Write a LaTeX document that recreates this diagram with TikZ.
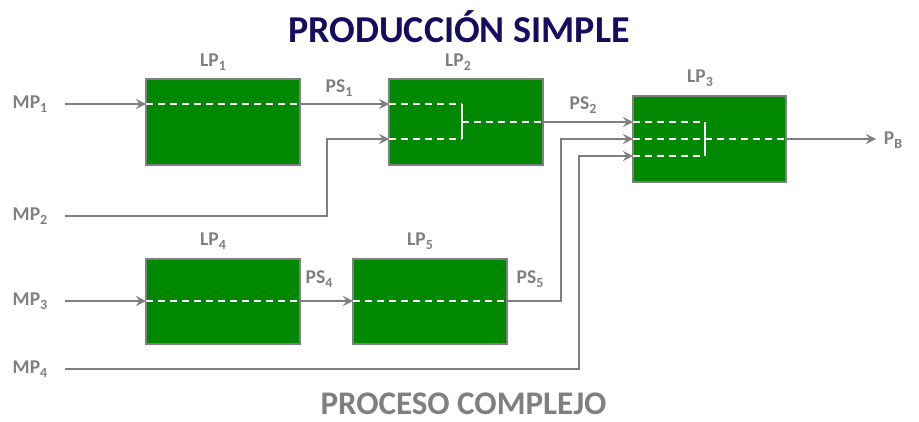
\documentclass[tikz,border=0pt]{standalone}
\usepackage{fontspec}
\setmainfont{Carlito}
\usetikzlibrary{arrows.meta,calc}
\definecolor{boxgreen}{RGB}{0,136,0}
\definecolor{lgrey}{RGB}{127,127,127}
\definecolor{navy}{RGB}{22,12,96}
\newcommand{\lsub}[1]{\raisebox{-0.4ex}{\fontsize{14}{14}\selectfont #1}}
\begin{document}
\begin{tikzpicture}[x=1pt,y=-1pt,
  lpbox/.style={draw=lgrey,line width=2pt,fill=boxgreen,minimum width=154pt,minimum height=86pt,inner sep=0pt,outer sep=0pt},
  lbl/.style={text=lgrey,font=\bfseries\fontsize{19.5}{20}\selectfont,inner sep=0pt},
  flow/.style={draw=lgrey,line width=1.5pt},
  arr/.style={flow,-{Stealth[length=10pt,width=10pt,inset=3.5pt]}},
  inner/.style={draw=white,line width=1.5pt,dash pattern=on 7pt off 5pt},
  bar/.style={draw=white,line width=1.5pt}]
\useasboundingbox (0,0) rectangle (919,421);
% title
\node[font=\bfseries\fontsize{38}{38}\selectfont,text=navy,inner sep=0pt,anchor=base] (title) at (459,42) {PRODUCCIÓN SIMPLE};
\node[font=\bfseries\fontsize{33}{33}\selectfont,text=lgrey,inner sep=0pt,anchor=base] (sub) at (463.5,414) {PROCESO COMPLEJO};
% boxes
\node[lpbox] (lp1) at (223,122) {};
\node[lpbox] (lp2) at (466,122) {};
\node[lpbox,minimum width=153pt] (lp3) at (709.5,139) {};
\node[lpbox,minimum height=85pt] (lp4) at (223,301) {};
\node[lpbox,minimum height=85pt] (lp5) at (430,301) {};
% labels
\node[lbl] (mp1) at (30,104) {MP\lsub{1}};
\node[lbl] (mp2) at (30,216) {MP\lsub{2}};
\node[lbl] (mp3) at (30,301) {MP\lsub{3}};
\node[lbl] (mp4) at (30,369) {MP\lsub{4}};
\node[lbl] (l1) at (213,62) {LP\lsub{1}};
\node[lbl] (l2) at (458,62) {LP\lsub{2}};
\node[lbl] (l3) at (700,78) {LP\lsub{3}};
\node[lbl] (l4) at (213,241) {LP\lsub{4}};
\node[lbl] (l5) at (420,241) {LP\lsub{5}};
\node[lbl] (ps1) at (339,88) {PS\lsub{1}};
\node[lbl] (ps2) at (583,105) {PS\lsub{2}};
\node[lbl] (ps4) at (319,279) {PS\lsub{4}};
\node[lbl] (ps5) at (530,279) {PS\lsub{5}};
\node[lbl] (pb) at (893,140) {P\lsub{B}};
% coordinates
\coordinate (s1) at (65,104);
\coordinate (s2) at (65,216);
\coordinate (k2) at (327,216);
\coordinate (s3) at (65,301);
\coordinate (s4) at (65,369);
\coordinate (k4) at (579,369);
\coordinate (k5) at (561,301);
\coordinate (pe) at (876,139);
\coordinate (b2) at (462,104);
\coordinate (b3) at (705,122);
% LP1 / LP2 chain
\draw[arr] (s1) -- (lp1.west |- s1);
\draw[inner] (lp1.west |- s1) -- (lp1.east |- s1);
\draw[arr] (lp1.east |- s1) -- (lp2.west |- s1);
\draw[arr] (s2) -- (k2) |- ($(lp2.west)+(0,17)$);
\draw[inner] (lp2.west |- s1) -- (b2);
\draw[inner] ($(lp2.west)+(0,17)$) -- ($(b2)+(0,35)$);
\draw[bar] (b2) -- ($(b2)+(0,35)$);
\draw[inner] ($(b2)+(0,18)$) -- (lp2.east);
\draw[arr] (lp2.east) -- ($(lp3.west)+(0,-17)$);
% LP3
\draw[inner] ($(lp3.west)+(0,-17)$) -- (b3);
\draw[inner] (lp3.west) -- (b3 |- lp3.west);
\draw[inner] ($(lp3.west)+(0,17)$) -- ($(b3)+(0,34)$);
\draw[bar] (b3) -- ($(b3)+(0,34)$);
\draw[inner] (b3 |- lp3.west) -- (lp3.east);
\draw[arr] (lp3.east) -- (pe);
% LP4 / LP5 chain
\draw[arr] (s3) -- (lp4.west |- s3);
\draw[inner] (lp4.west |- s3) -- (lp4.east |- s3);
\draw[arr] (lp4.east |- s3) -- (lp5.west |- s3);
\draw[inner] (lp5.west |- s3) -- (lp5.east |- s3);
\draw[arr] (lp5.east |- s3) -- (k5) |- (lp3.west);
\draw[arr] (s4) -- (k4) |- ($(lp3.west)+(0,17)$);
\end{tikzpicture}
\end{document}
